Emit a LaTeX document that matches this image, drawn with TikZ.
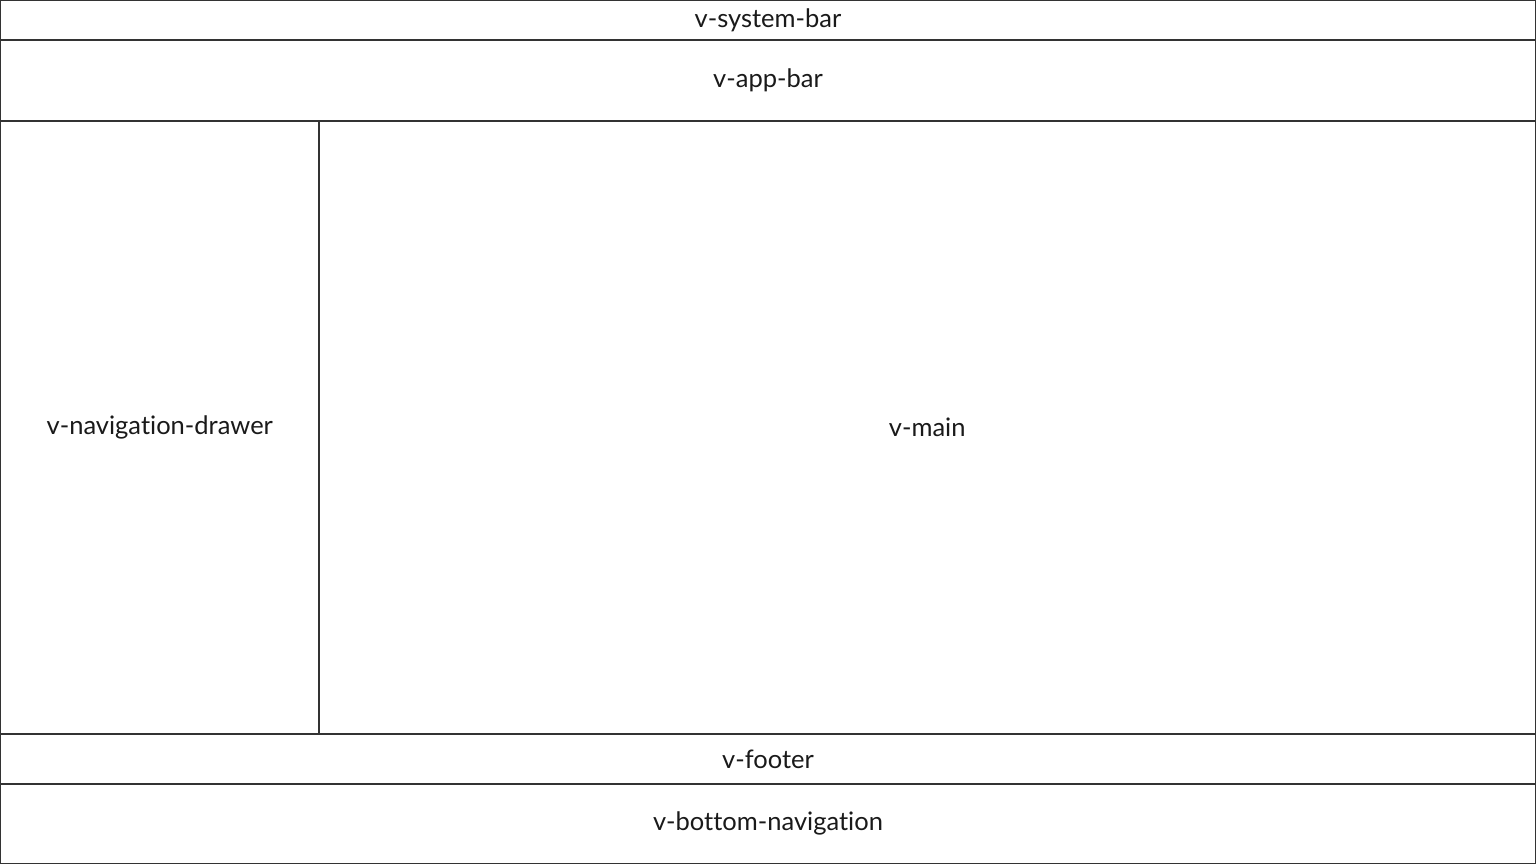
\documentclass[tikz,border=0pt]{standalone}
\usepackage{fontspec}
\setmainfont{Lato}[Ligatures=NoCommon]
\definecolor{edge}{HTML}{333333}
\definecolor{ink}{HTML}{1A1A1A}
\begin{document}
\begin{tikzpicture}[x=1pt,y=1pt,
  region/.style={draw=edge, line width=1.3pt, inner sep=0pt, outer sep=0pt, anchor=center,
    text=ink, font=\fontsize{25.5}{30}\selectfont}]
\useasboundingbox (0,0) rectangle (1536,864);
\fill[white] (0,0) rectangle (1536,864);
% px y -> 864 - y
\node[region, minimum width=1534.7pt, minimum height=39.4pt] (sysbar) at (768,843.7) {v-system-bar};
\node[region, minimum width=1534.7pt, minimum height=81pt] (appbar) at (768,783.5) {v-app-bar};
\node[region, minimum width=318.3pt, minimum height=613pt] (nav) at (159.8,436.5) {v-navigation-drawer};
\node[region, minimum width=1216.35pt, minimum height=613pt] (main) at (927.18,436.5) {v-main};
\node[region, minimum width=1534.7pt, minimum height=50pt] (footer) at (768,105) {v-footer};
\node[region, minimum width=1534.7pt, minimum height=79.35pt] (bottomnav) at (768,40.325) {v-bottom-navigation};
\end{tikzpicture}
\end{document}
